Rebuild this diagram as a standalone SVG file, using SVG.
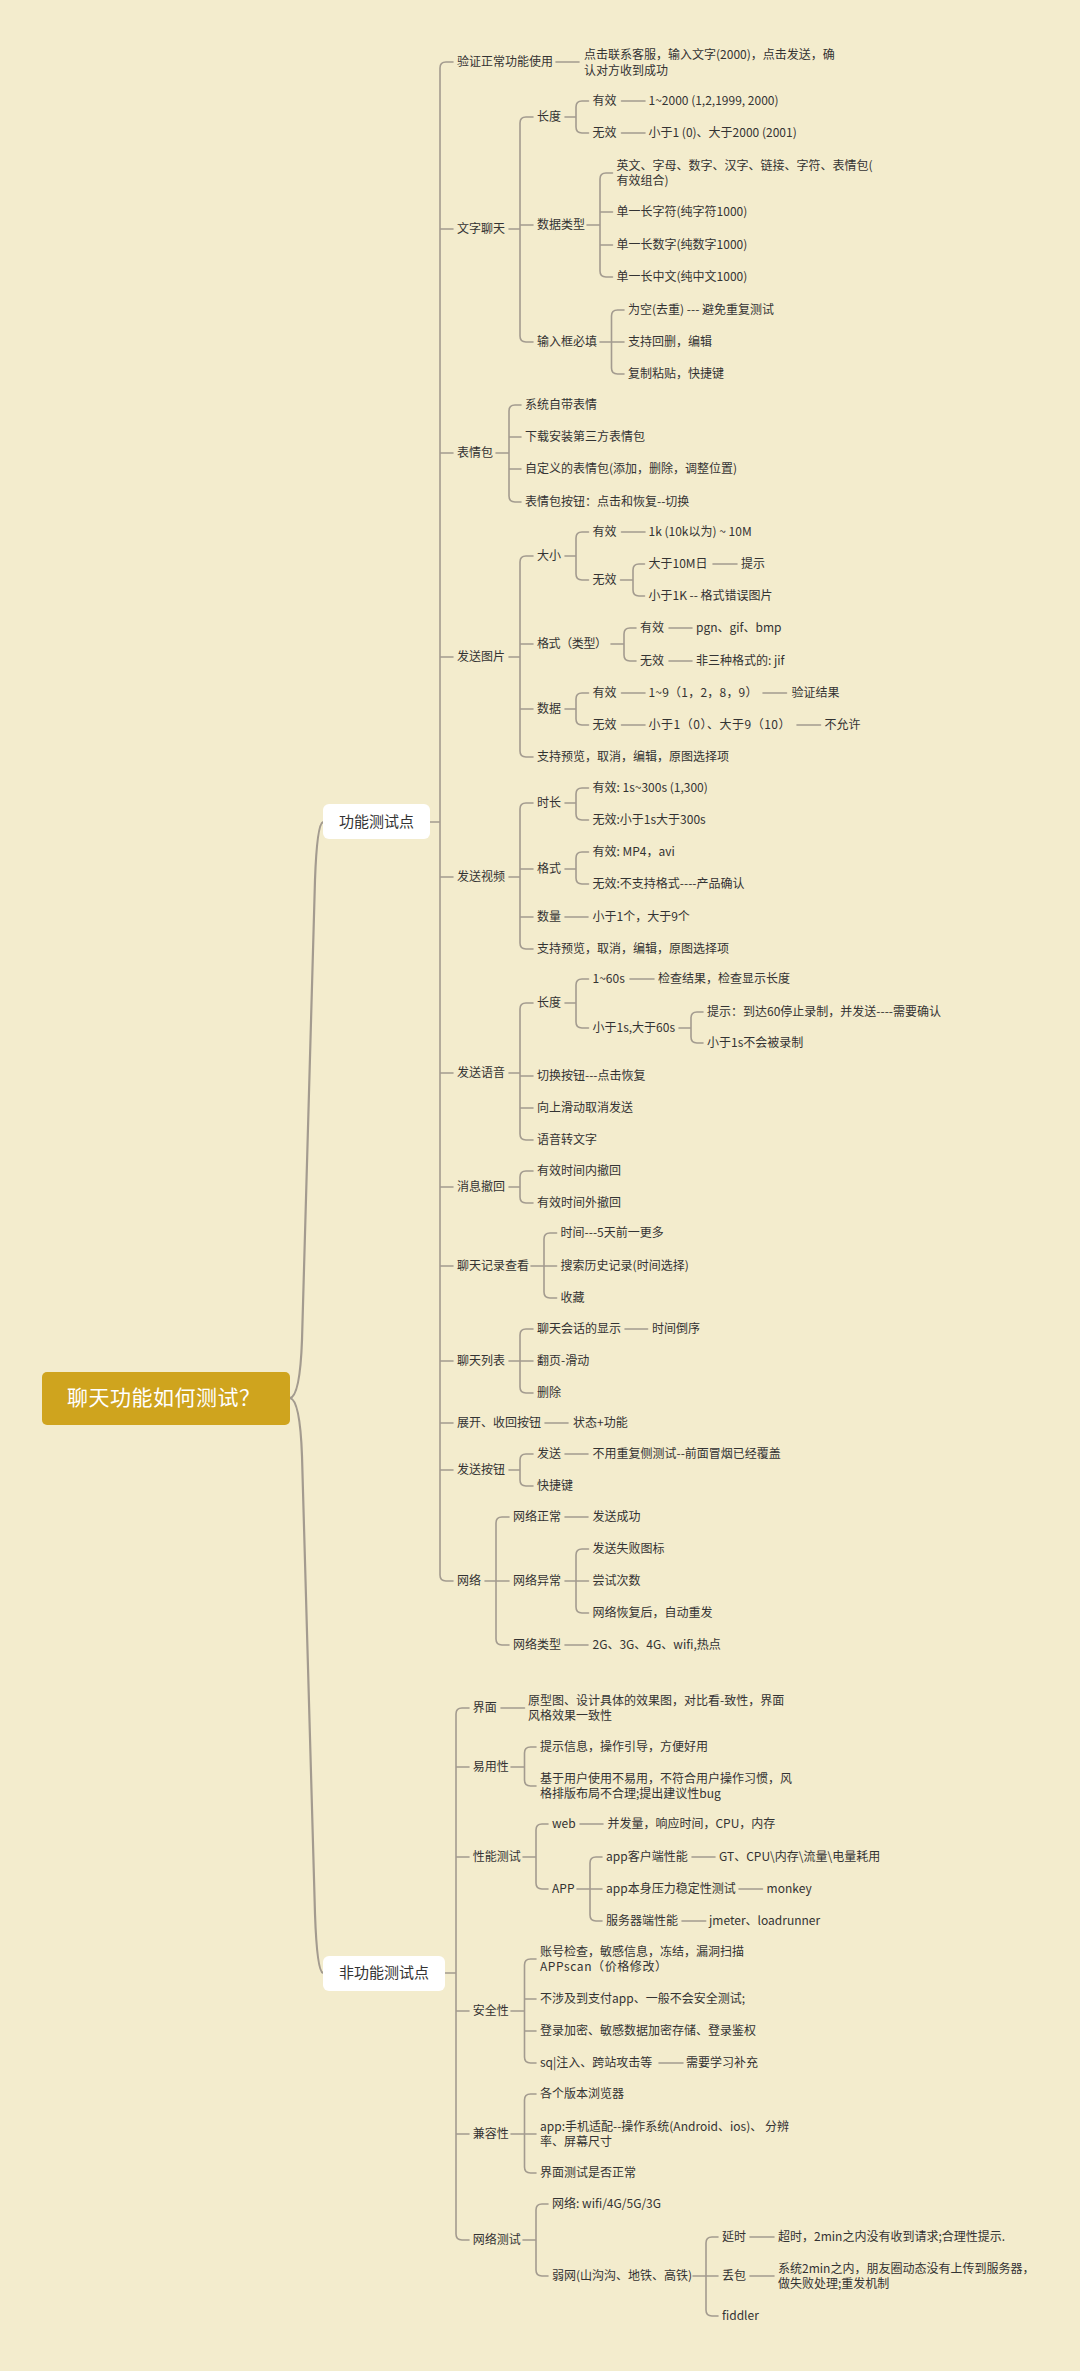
<svg xmlns="http://www.w3.org/2000/svg" width="1080" height="2371" viewBox="0 0 1080 2371">
<style>
.bg{fill:#F3ECCD}
.c{fill:none;stroke:#A39B8F;stroke-width:1.6;stroke-linecap:round}
.m{fill:none;stroke:#A39B8F;stroke-width:2.2}
.t{font-family:"Noto Sans CJK SC","Microsoft YaHei",sans-serif;font-size:12px;fill:#333}
.b{font-family:"Noto Sans CJK SC","Microsoft YaHei",sans-serif;font-size:15px;fill:#333;text-anchor:middle}
.r{font-family:"Noto Sans CJK SC","Microsoft YaHei",sans-serif;font-size:21px;fill:#fff}
.box{fill:#fff}
</style>
<rect class="bg" x="0" y="0" width="1080" height="2371"/>
<g id="connectors">
<path class="m" d="M290,1398 Q300,1396 302,1340 L315,880 Q317,824 323,822"/>
<path class="m" d="M290,1398 Q300,1400 302,1456 L315,1914 Q317,1971 323,1973"/>
<path class="c" d="M430,822 H440 M453,62 H446 Q440,62 440,68 V1575 Q440,1581 446,1581 H453 M440,229 H453 M440,453 H453 M440,657 H453 M440,877 H453 M440,1073 H453 M440,1187 H453 M440,1266 H453 M440,1361 H453 M440,1423 H453 M440,1470 H453"/>
<path class="c" d="M556,62 H579"/>
<path class="c" d="M509,229 H520 M533,117 H526 Q520,117 520,123 V336 Q520,342 526,342 H533 M520,225 H533"/>
<path class="c" d="M565,117 H576 M588.5,101 H582 Q576,101 576,107 V127 Q576,133 582,133 H588.5 M621.5,101 H645 M621.5,133 H645"/>
<path class="c" d="M587,225 H600 M612.5,173 H606 Q600,173 600,179 V271 Q600,277 606,277 H612.5 M600,212 H612.5 M600,245 H612.5"/>
<path class="c" d="M600,342 H611.5 M624,310 H617.5 Q611.5,310 611.5,316 V368 Q611.5,374 617.5,374 H624 M611.5,342 H624"/>
<path class="c" d="M496,453 H509 M521,405 H515 Q509,405 509,411 V496 Q509,502 515,502 H521 M509,437 H521 M509,469 H521"/>
<path class="c" d="M509,657 H520 M533,556 H526 Q520,556 520,562 V751 Q520,757 526,757 H533 M520,644 H533 M520,709 H533"/>
<path class="c" d="M565,556 H576 M588.5,532 H582 Q576,532 576,538 V574 Q576,580 582,580 H588.5 M621.5,532 H645"/>
<path class="c" d="M620.5,580 H633 M644.5,564 H639 Q633,564 633,570 V590 Q633,596 639,596 H644.5 M713,564 H737"/>
<path class="c" d="M611,644 H624 M636,628 H630 Q624,628 624,634 V655 Q624,661 630,661 H636 M669,628 H692 M669,661 H692"/>
<path class="c" d="M565,709 H576 M588.5,693 H582 Q576,693 576,699 V719 Q576,725 582,725 H588.5 M621.5,693 H645 M763,693 H786.5 M621.5,725 H645 M797,725 H820.5"/>
<path class="c" d="M509,877 H520 M533,803 H526 Q520,803 520,809 V943 Q520,949 526,949 H533 M520,869 H533 M520,917 H533"/>
<path class="c" d="M565,803 H576 M588.5,788 H582 Q576,788 576,794 V814 Q576,820 582,820 H588.5"/>
<path class="c" d="M565,869 H576 M588.5,852 H582 Q576,852 576,858 V878 Q576,884 582,884 H588.5"/>
<path class="c" d="M565,917 H588"/>
<path class="c" d="M509,1073 H520 M533,1003 H526 Q520,1003 520,1009 V1134 Q520,1140 526,1140 H533 M520,1076 H533 M520,1108 H533"/>
<path class="c" d="M565,1003 H576 M588.5,979 H582 Q576,979 576,985 V1022 Q576,1028 582,1028 H588.5 M630,979 H654"/>
<path class="c" d="M679,1028 H691 M703,1012 H697 Q691,1012 691,1018 V1037 Q691,1043 697,1043 H703"/>
<path class="c" d="M509,1187 H520 M533,1171 H526 Q520,1171 520,1177 V1197 Q520,1203 526,1203 H533"/>
<path class="c" d="M531,1266 H544 M556.6,1233 H550 Q544,1233 544,1239 V1292 Q544,1298 550,1298 H556.6 M544,1266 H556.6"/>
<path class="c" d="M509,1361 H520 M533,1329 H526 Q520,1329 520,1335 V1387 Q520,1393 526,1393 H533 M520,1361 H533 M625,1329 H647.6"/>
<path class="c" d="M545,1423 H568"/>
<path class="c" d="M509,1470 H520 M533,1454 H526 Q520,1454 520,1460 V1480 Q520,1486 526,1486 H533 M565,1454 H588"/>
<path class="c" d="M485,1581 H496 M509,1517 H502 Q496,1517 496,1523 V1639 Q496,1645 502,1645 H509 M496,1581 H509 M565,1517 H588 M565,1645 H588"/>
<path class="c" d="M565,1581 H576 M588.5,1549 H582 Q576,1549 576,1555 V1607 Q576,1613 582,1613 H588.5 M576,1581 H588.5"/>
<path class="c" d="M445,1973 H456 M469,1708 H462 Q456,1708 456,1714 V2234 Q456,2240 462,2240 H469 M456,1767 H469 M456,1857 H469 M456,2011 H469 M456,2134 H469"/>
<path class="c" d="M501,1708 H524.5"/>
<path class="c" d="M511,1767 H524.5 M536,1747 H530.5 Q524.5,1747 524.5,1753 V1780 Q524.5,1786 530.5,1786 H536"/>
<path class="c" d="M523,1857 H536 M548,1824 H542 Q536,1824 536,1830 V1883 Q536,1889 542,1889 H548 M580,1824 H603"/>
<path class="c" d="M577,1889 H590 M602,1857 H596 Q590,1857 590,1863 V1915 Q590,1921 596,1921 H602 M590,1889 H602 M692,1857 H715 M739,1889 H762.5 M682,1921 H705.7"/>
<path class="c" d="M511,2011 H524.5 M536,1959 H530.5 Q524.5,1959 524.5,1965 V2057 Q524.5,2063 530.5,2063 H536 M524.5,1999 H536 M524.5,2031 H536 M659,2063 H683"/>
<path class="c" d="M511,2134 H524.5 M536,2094 H530.5 Q524.5,2094 524.5,2100 V2167 Q524.5,2173 530.5,2173 H536 M524.5,2134 H536"/>
<path class="c" d="M523,2240 H536 M548,2204 H542 Q536,2204 536,2210 V2270 Q536,2276 542,2276 H548"/>
<path class="c" d="M693,2276 H706 M718,2237 H712 Q706,2237 706,2243 V2310 Q706,2316 712,2316 H718 M706,2276 H718 M750,2237 H774 M750,2276 H774"/>
</g>
<g id="root"><rect x="42" y="1372" width="248" height="53" rx="5" fill="#CFA41E"/><text class="r" x="67" y="1405" textLength="193" lengthAdjust="spacing">聊天功能如何测试？</text></g>
<g id="func"><rect class="box" x="323" y="804" width="107" height="35" rx="6"/><text class="b" x="376.5" y="827">功能测试点</text></g>
<g id="nonfunc"><rect class="box" x="323" y="1956" width="122" height="35" rx="6"/><text class="b" x="384" y="1978">非功能测试点</text></g>
<g id="f1"><text class="t" x="457" y="66">验证正常功能使用</text></g>
<g id="f1a"><text class="t" x="584" y="59">点击联系客服，输入文字(2000)，点击发送，确</text><text class="t" x="584" y="75">认对方收到成功</text></g>
<g id="f2"><text class="t" x="457" y="233">文字聊天</text></g>
<g id="f2a"><text class="t" x="537" y="121">长度</text></g>
<g id="f2a1"><text class="t" x="592.5" y="105">有效</text><text class="t" x="648.5" y="105">1~2000 (1,2,1999, 2000)</text></g>
<g id="f2a2"><text class="t" x="592.5" y="137">无效</text><text class="t" x="648.5" y="137">小于1 (0)、大于2000 (2001)</text></g>
<g id="f2b"><text class="t" x="537" y="229">数据类型</text></g>
<g id="f2b1"><text class="t" x="616.5" y="170">英文、字母、数字、汉字、链接、字符、表情包(</text><text class="t" x="616.5" y="185">有效组合)</text></g>
<g id="f2b2"><text class="t" x="616.5" y="216">单一长字符(纯字符1000)</text></g>
<g id="f2b3"><text class="t" x="616.5" y="249">单一长数字(纯数字1000)</text></g>
<g id="f2b4"><text class="t" x="616.5" y="281">单一长中文(纯中文1000)</text></g>
<g id="f2c"><text class="t" x="537" y="346">输入框必填</text></g>
<g id="f2c1"><text class="t" x="628" y="314">为空(去重) --- 避免重复测试</text></g>
<g id="f2c2"><text class="t" x="628" y="346">支持回删，编辑</text></g>
<g id="f2c3"><text class="t" x="628" y="378">复制粘贴，快捷键</text></g>
<g id="f3"><text class="t" x="457" y="457">表情包</text></g>
<g id="f3a"><text class="t" x="525" y="409">系统自带表情</text></g>
<g id="f3b"><text class="t" x="525" y="441">下载安装第三方表情包</text></g>
<g id="f3c"><text class="t" x="525" y="473">自定义的表情包(添加，删除，调整位置)</text></g>
<g id="f3d"><text class="t" x="525" y="506">表情包按钮：点击和恢复--切换</text></g>
<g id="f4"><text class="t" x="457" y="661">发送图片</text></g>
<g id="f4a"><text class="t" x="537" y="560">大小</text></g>
<g id="f4a1"><text class="t" x="592.5" y="536">有效</text><text class="t" x="648.5" y="536">1k (10k以为) ~ 10M</text></g>
<g id="f4a2"><text class="t" x="592.5" y="584">无效</text></g>
<g id="f4a2a"><text class="t" x="648.5" y="568">大于10M日</text><text class="t" x="741" y="568">提示</text></g>
<g id="f4a2b"><text class="t" x="648.5" y="600">小于1K -- 格式错误图片</text></g>
<g id="f4b"><text class="t" x="537" y="648" textLength="70" lengthAdjust="spacing">格式（类型）</text></g>
<g id="f4b1"><text class="t" x="640" y="632">有效</text><text class="t" x="696" y="632">pgn、gif、bmp</text></g>
<g id="f4b2"><text class="t" x="640" y="665">无效</text><text class="t" x="696" y="665">非三种格式的: jif</text></g>
<g id="f4c"><text class="t" x="537" y="713">数据</text></g>
<g id="f4c1"><text class="t" x="592.5" y="697">有效</text><text class="t" x="648.5" y="697" textLength="109" lengthAdjust="spacing">1~9（1，2，8，9）</text><text class="t" x="791.5" y="697">验证结果</text></g>
<g id="f4c2"><text class="t" x="592.5" y="729">无效</text><text class="t" x="648.5" y="729" textLength="142" lengthAdjust="spacing">小于1（0）、大于9（10）</text><text class="t" x="824.6" y="729">不允许</text></g>
<g id="f4d"><text class="t" x="537" y="761">支持预览，取消，编辑，原图选择项</text></g>
<g id="f5"><text class="t" x="457" y="881">发送视频</text></g>
<g id="f5a"><text class="t" x="537" y="807">时长</text></g>
<g id="f5a1"><text class="t" x="592.5" y="792">有效: 1s~300s (1,300)</text></g>
<g id="f5a2"><text class="t" x="592.5" y="824">无效:小于1s大于300s</text></g>
<g id="f5b"><text class="t" x="537" y="873">格式</text></g>
<g id="f5b1"><text class="t" x="592.5" y="856">有效: MP4，avi</text></g>
<g id="f5b2"><text class="t" x="592.5" y="888">无效:不支持格式----产品确认</text></g>
<g id="f5c"><text class="t" x="537" y="921">数量</text><text class="t" x="592.5" y="921">小于1个，大于9个</text></g>
<g id="f5d"><text class="t" x="537" y="953">支持预览，取消，编辑，原图选择项</text></g>
<g id="f6"><text class="t" x="457" y="1077">发送语音</text></g>
<g id="f6a"><text class="t" x="537" y="1007">长度</text></g>
<g id="f6a1"><text class="t" x="592.5" y="983">1~60s</text><text class="t" x="658" y="983">检查结果，检查显示长度</text></g>
<g id="f6a2"><text class="t" x="592.5" y="1032">小于1s,大于60s</text></g>
<g id="f6a2a"><text class="t" x="707" y="1016">提示：到达60停止录制，并发送----需要确认</text></g>
<g id="f6a2b"><text class="t" x="707" y="1047">小于1s不会被录制</text></g>
<g id="f6b"><text class="t" x="537" y="1080">切换按钮---点击恢复</text></g>
<g id="f6c"><text class="t" x="537" y="1112">向上滑动取消发送</text></g>
<g id="f6d"><text class="t" x="537" y="1144">语音转文字</text></g>
<g id="f7"><text class="t" x="457" y="1191">消息撤回</text></g>
<g id="f7a"><text class="t" x="537" y="1175">有效时间内撤回</text></g>
<g id="f7b"><text class="t" x="537" y="1207">有效时间外撤回</text></g>
<g id="f8"><text class="t" x="457" y="1270">聊天记录查看</text></g>
<g id="f8a"><text class="t" x="560.6" y="1237">时间---5天前一更多</text></g>
<g id="f8b"><text class="t" x="560.6" y="1270">搜索历史记录(时间选择)</text></g>
<g id="f8c"><text class="t" x="560.6" y="1302">收藏</text></g>
<g id="f9"><text class="t" x="457" y="1365">聊天列表</text></g>
<g id="f9a"><text class="t" x="537" y="1333">聊天会话的显示</text><text class="t" x="652" y="1333">时间倒序</text></g>
<g id="f9b"><text class="t" x="537" y="1365">翻页-滑动</text></g>
<g id="f9c"><text class="t" x="537" y="1397">删除</text></g>
<g id="f10"><text class="t" x="457" y="1427">展开、收回按钮</text><text class="t" x="573" y="1427">状态+功能</text></g>
<g id="f11"><text class="t" x="457" y="1474">发送按钮</text></g>
<g id="f11a"><text class="t" x="537" y="1458">发送</text><text class="t" x="592.5" y="1458">不用重复侧测试--前面冒烟已经覆盖</text></g>
<g id="f11b"><text class="t" x="537" y="1490">快捷键</text></g>
<g id="f12"><text class="t" x="457" y="1585">网络</text></g>
<g id="f12a"><text class="t" x="513" y="1521">网络正常</text><text class="t" x="592.5" y="1521">发送成功</text></g>
<g id="f12b"><text class="t" x="513" y="1585">网络异常</text></g>
<g id="f12b1"><text class="t" x="592.5" y="1553">发送失败图标</text></g>
<g id="f12b2"><text class="t" x="592.5" y="1585">尝试次数</text></g>
<g id="f12b3"><text class="t" x="592.5" y="1617">网络恢复后，自动重发</text></g>
<g id="f12c"><text class="t" x="513" y="1649">网络类型</text><text class="t" x="592.5" y="1649">2G、3G、4G、wifi,热点</text></g>
<g id="n1"><text class="t" x="472.7" y="1712">界面</text><text class="t" x="528" y="1705">原型图、设计具体的效果图，对比看-致性，界面</text><text class="t" x="528" y="1720">风格效果一致性</text></g>
<g id="n2"><text class="t" x="472.7" y="1771">易用性</text></g>
<g id="n2a"><text class="t" x="540" y="1751">提示信息，操作引导，方便好用</text></g>
<g id="n2b"><text class="t" x="540" y="1783">基于用户使用不易用，不符合用户操作习惯，风</text><text class="t" x="540" y="1798">格排版布局不合理;提出建议性bug</text></g>
<g id="n3"><text class="t" x="472.7" y="1861">性能测试</text></g>
<g id="n3a"><text class="t" x="552" y="1828">web</text><text class="t" x="607.4" y="1828">并发量，响应时间，CPU，内存</text></g>
<g id="n3b"><text class="t" x="552" y="1893">APP</text></g>
<g id="n3b1"><text class="t" x="606" y="1861">app客户端性能</text><text class="t" x="719" y="1861">GT、CPU\内存\流量\电量耗用</text></g>
<g id="n3b2"><text class="t" x="606" y="1893">app本身压力稳定性测试</text><text class="t" x="766.6" y="1893">monkey</text></g>
<g id="n3b3"><text class="t" x="606" y="1925">服务器端性能</text><text class="t" x="709" y="1925">jmeter、loadrunner</text></g>
<g id="n4"><text class="t" x="472.7" y="2015">安全性</text></g>
<g id="n4a"><text class="t" x="540" y="1956">账号检查，敏感信息，冻结，漏洞扫描</text><text class="t" x="540" y="1971" textLength="127" lengthAdjust="spacing">APPscan（价格修改）</text></g>
<g id="n4b"><text class="t" x="540" y="2003">不涉及到支付app、一般不会安全测试;</text></g>
<g id="n4c"><text class="t" x="540" y="2035">登录加密、敏感数据加密存储、登录鉴权</text></g>
<g id="n4d"><text class="t" x="540" y="2067">sq|注入、跨站攻击等</text><text class="t" x="686" y="2067">需要学习补充</text></g>
<g id="n5"><text class="t" x="472.7" y="2138">兼容性</text></g>
<g id="n5a"><text class="t" x="540" y="2098">各个版本浏览器</text></g>
<g id="n5b"><text class="t" x="540" y="2131">app:手机适配--操作系统(Android、ios)、 分辨</text><text class="t" x="540" y="2146">率、屏幕尺寸</text></g>
<g id="n5c"><text class="t" x="540" y="2177">界面测试是否正常</text></g>
<g id="n6"><text class="t" x="472.7" y="2244">网络测试</text></g>
<g id="n6a"><text class="t" x="552" y="2208">网络: wifi/4G/5G/3G</text></g>
<g id="n6b"><text class="t" x="552" y="2280">弱网(山沟沟、地铁、高铁)</text></g>
<g id="n6b1"><text class="t" x="722" y="2241">延时</text><text class="t" x="778" y="2241">超时，2min之内没有收到请求;合理性提示.</text></g>
<g id="n6b2"><text class="t" x="722" y="2280">丢包</text><text class="t" x="778" y="2273">系统2min之内，朋友圈动态没有上传到服务器，</text><text class="t" x="778" y="2288">做失败处理;重发机制</text></g>
<g id="n6b3"><text class="t" x="722" y="2320">fiddler</text></g>
</svg>
